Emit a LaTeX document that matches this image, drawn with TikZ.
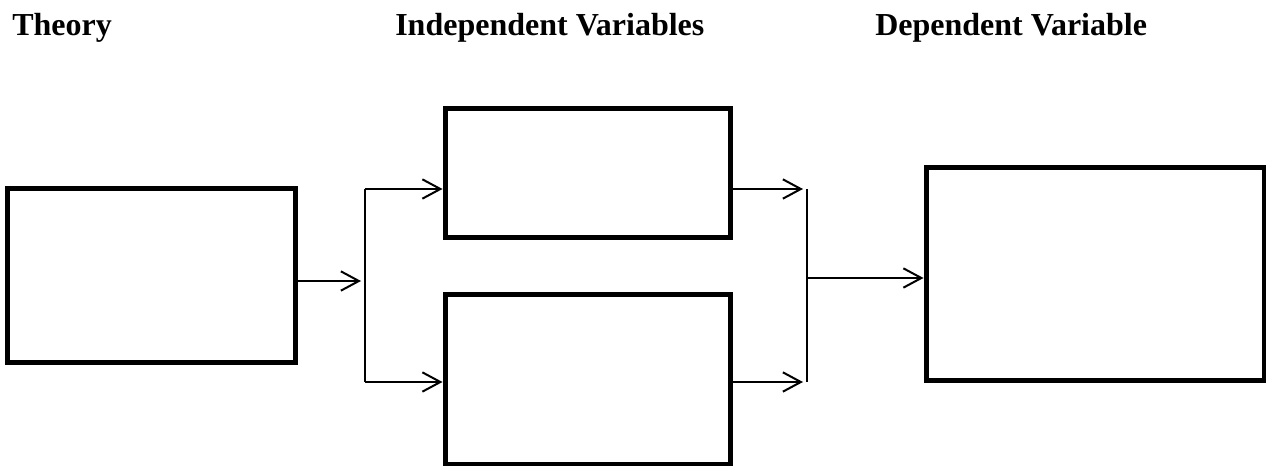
\documentclass[tikz,border=0pt]{standalone}
\usepackage{fontspec}
\setmainfont{Liberation Serif}
\usetikzlibrary{arrows.meta}
\begin{document}
\begin{tikzpicture}[x=0.75pt, y=-0.75pt]
            \tikzset{
                box/.style={draw, line width=3.75pt, inner sep=0pt}, arc/.style={line width=1.5pt, -{Straight Barb[length=13.5pt, width=14.5pt]}},
                heading/.style={anchor=base west, inner sep=0pt, font=\fontsize{24}{29}\selectfont\bfseries}
            }
            \useasboundingbox (0,0) rectangle (1266,466);

            \draw node[heading] (htheory) at (12,36) {Theory};
            \draw node[heading] (hindep) at (395,36) {Independent Variables};
            \draw node[heading] (hdep) at (875,36) {Dependent Variable};

            \draw node[box, minimum width=216pt, minimum height=130.5pt] (theory) at (151.5,275.5) {};
            \draw node[box, minimum width=213.75pt, minimum height=96.75pt] (ivup) at (587.5,173) {};
            \draw node[box, minimum width=213.75pt, minimum height=126.75pt] (ivlow) at (587.5,379.5) {};
            \draw node[box, minimum width=253.5pt, minimum height=159pt] (dv) at (1095,274) {};

            \coordinate (split) at (365,281);
            \coordinate (splitup) at (365,189);
            \coordinate (splitlow) at (365,382);
            \coordinate (join) at (807,278);
            \coordinate (joinup) at (807,189);
            \coordinate (joinlow) at (807,382);

            \draw[line width=1.5pt] (splitup) -- (splitlow);
            \draw[line width=1.5pt] (joinup) -- (joinlow);
            \draw[arc, shorten >=3pt] (theory.east |- split) -- (split);
            \foreach \x/\y in {%
                splitup/ivup, splitlow/ivlow%
            }{
            \draw[arc] (\x) -- (\x -| \y.west);
            }
            \foreach \x/\y in {%
                ivup/joinup, ivlow/joinlow%
            }{
            \draw[arc, shorten >=3pt] (\x.east |- \y) -- (\y);
            }
            \draw[arc] (join) -- (join -| dv.west);
        \end{tikzpicture}
\end{document}
